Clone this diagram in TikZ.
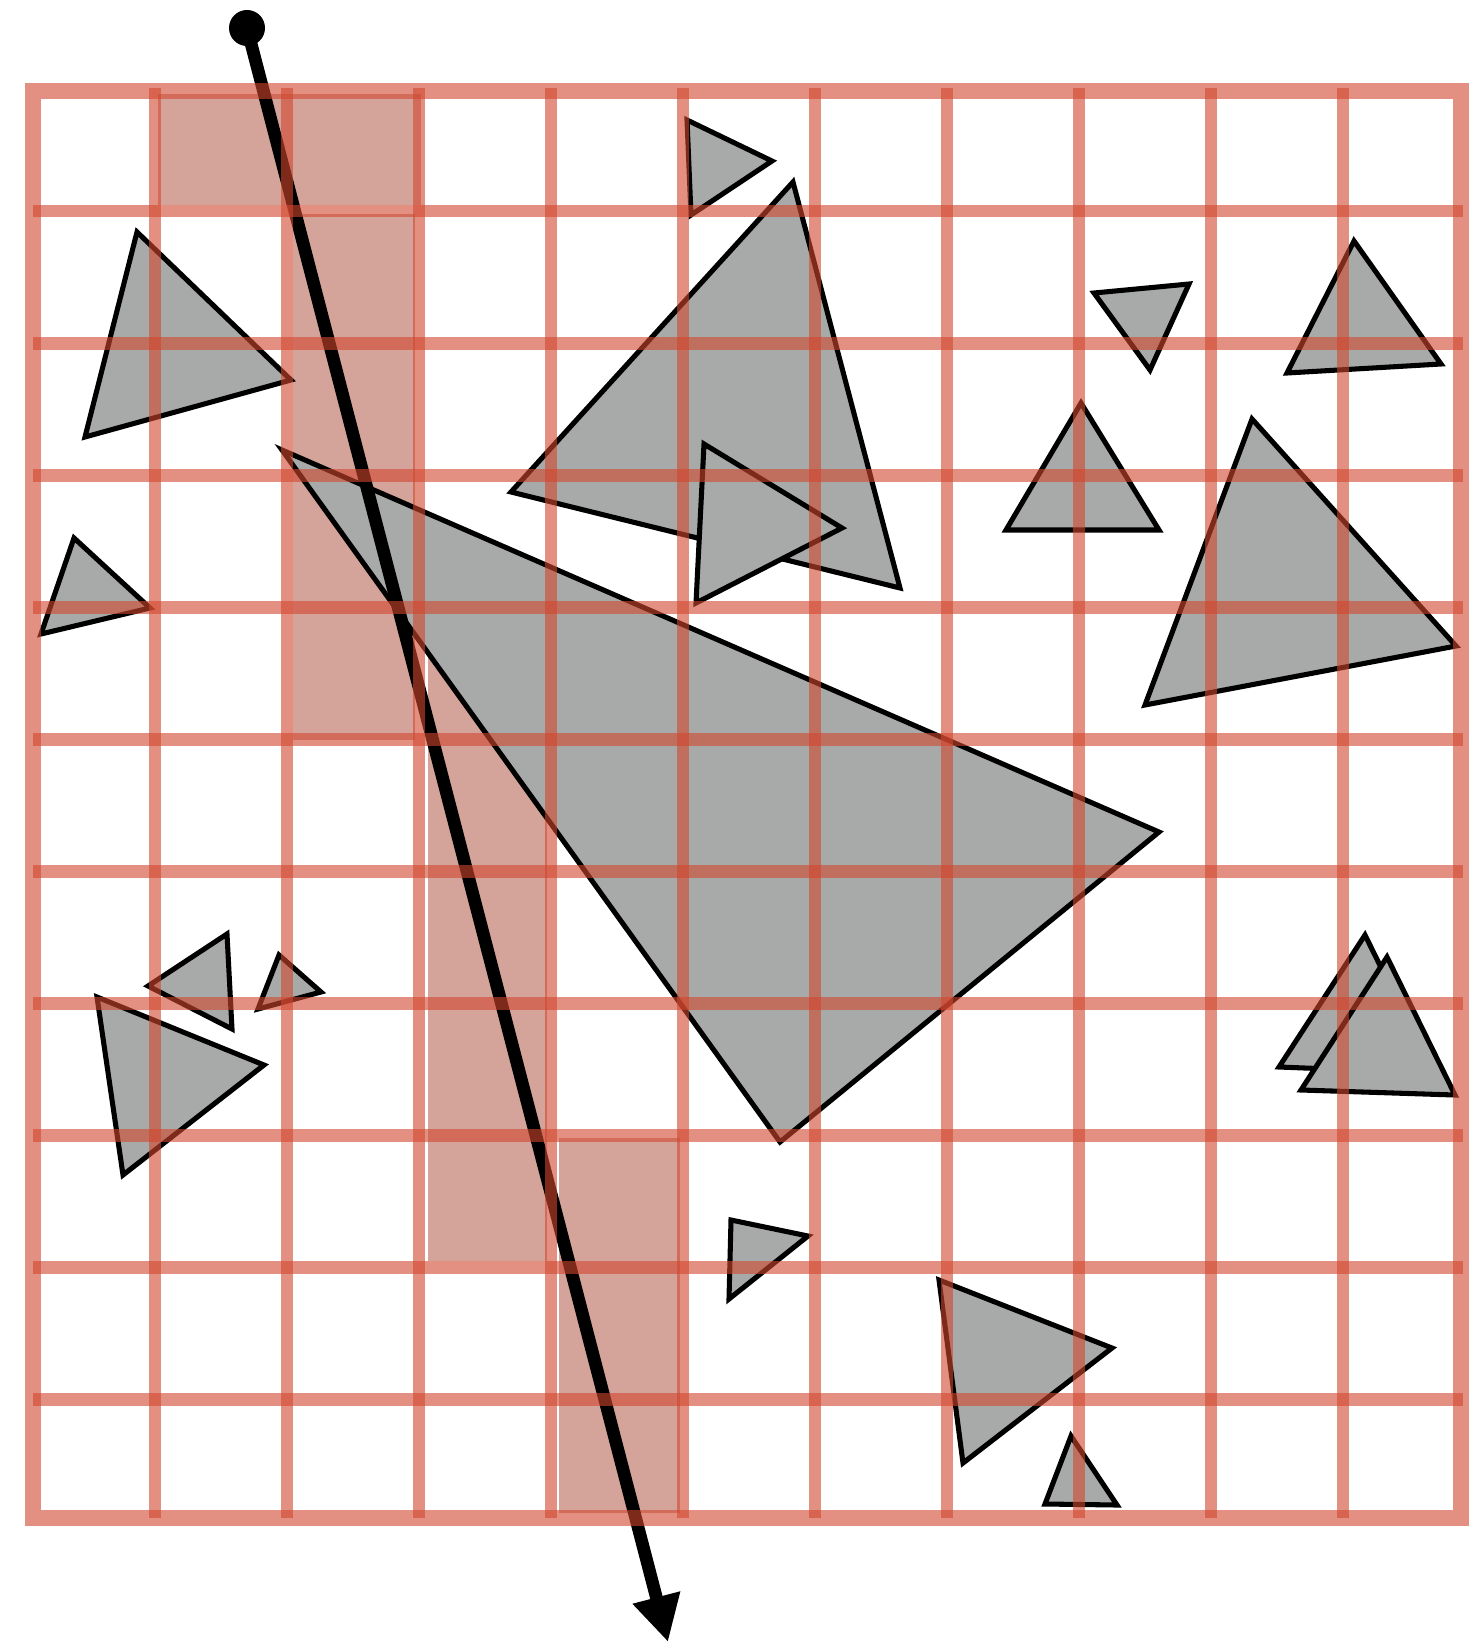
\documentclass[tikz,border=0pt]{standalone}
\usetikzlibrary{arrows.meta}
\definecolor{gridred}{RGB}{209,70,46}
\definecolor{cellpink}{HTML}{D4A39A}
\definecolor{trigray}{HTML}{A7AAA8}

\begin{document}
\begin{tikzpicture}[x=0.025cm,y=-0.025cm,
    tri/.style={fill=trigray,draw=black,line width=3.6pt},
    hit/.style={fill=cellpink,draw=white,line width=1pt},
    gridline/.style={draw=gridred,opacity=0.6,line width=9.2pt},
    dot/.style={circle,fill,inner sep=0pt,minimum size=0.9cm}]
  \useasboundingbox (0,0) rectangle (1476,1643);
  % cells visited by the ray
  \path[hit] (157,93) rectangle (422,206);
  \path[hit] (292,213) rectangle (416,741);
  \path[hit] (427,609) rectangle (548,1262);
  \path[hit] (558,1137) rectangle (681,1514);
  % triangles
  \draw[tri] (137,232) -- (291,380) -- (85,437) -- cycle;
  \draw[tri] (74,538) -- (150,608) -- (41,634) -- cycle;
  \draw[tri] (687,120) -- (772,161) -- (691,215) -- cycle;
  \draw[tri] (793,182) -- (900,588) -- (511,492) -- cycle;
  \draw[tri] (704,444) -- (842,528) -- (696,603) -- cycle;
  \draw[tri] (282,450) -- (1159,832) -- (780,1142) -- cycle;
  \draw[tri] (1094,293) -- (1189,284) -- (1150,370) -- cycle;
  \draw[tri] (1354,241) -- (1441,364) -- (1287,373) -- cycle;
  \draw[tri] (1081,403) -- (1159,530) -- (1006,530) -- cycle;
  \draw[tri] (1252,419) -- (1456,646) -- (1145,705) -- cycle;
  \draw[tri] (227,934) -- (232,1029) -- (148,986) -- cycle;
  \draw[tri] (279,955) -- (321,992) -- (258,1009) -- cycle;
  \draw[tri] (97,997) -- (264,1065) -- (123,1175) -- cycle;
  \draw[tri] (1365,935) -- (1279,1067) -- (1433,1073) -- cycle;
  \draw[tri] (1387,957) -- (1301,1090) -- (1455,1095) -- cycle;
  \draw[tri] (731,1220) -- (808,1236) -- (729,1299) -- cycle;
  \draw[tri] (939,1280) -- (1112,1348) -- (963,1463) -- cycle;
  \draw[tri] (1071,1436) -- (1117,1505) -- (1045,1504) -- cycle;
  % the ray
  \node[dot] (start) at (247,28) {};
  \coordinate (end) at (668,1642);
  \draw[line width=9pt,-{Triangle[length=1.15cm,width=1.15cm]}]
    (start.center) -- (end);
  % grid on top
  \foreach \k in {0,...,9} {
    \draw[gridline] ({155+132*\k},88) -- ({155+132*\k},1518);
    \draw[gridline] (33,{211+132.1*\k}) -- (1463,{211+132.1*\k});
  }
  \draw[gridline,line width=11.4pt] (33,91) rectangle (1461,1518);
\end{tikzpicture}
\end{document}
